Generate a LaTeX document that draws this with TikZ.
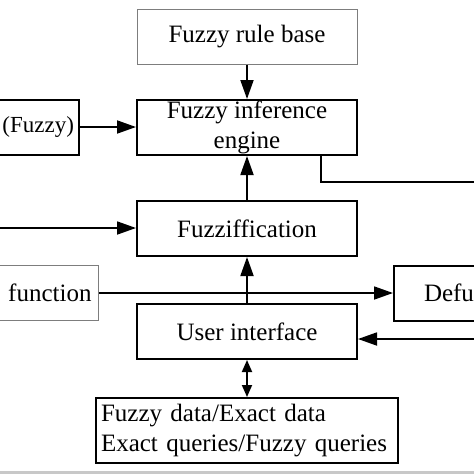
\documentclass[tikz,border=0pt]{standalone}
\usepackage{fontspec}
\setmainfont{Liberation Serif}
\usetikzlibrary{arrows.meta}
\definecolor{graybox}{RGB}{125,125,125}
\definecolor{band}{RGB}{200,200,200}
\tikzset{
  box/.style={draw=black, line width=2pt, minimum width=220pt, minimum height=55pt, inner sep=0pt, font=\fontsize{25}{30}\selectfont, align=center},
  graybx/.style={box, draw=graybox, line width=1pt},
  conn/.style={line width=1.8pt, -{Triangle[length=19pt,width=13pt]}},
  plain/.style={line width=1.8pt},
  dbl/.style={line width=1.8pt, {Triangle[length=12pt,width=10pt]}-{Triangle[length=12pt,width=10pt]}}
}
\begin{document}
\begin{tikzpicture}[x=1pt,y=-1pt]
\useasboundingbox (0,0) rectangle (474,474);
\fill[white] (0,0) rectangle (474,474);
\fill[band] (0,471) rectangle (474,474);
\node[graybx] (rule) at (247,36.5) {Fuzzy rule base};
\node[box] (eng) at (247,127.5) {Fuzzy inference\\engine};
\node[box, anchor=east, minimum width=160pt, text width=150pt, align=right, inner xsep=5pt, font=\fontsize{23}{28}\selectfont] (fz) at (80,127) {(Fuzzy)};
\node[box] (fuzzif) at (247,228.5) {Fuzziffication};
\node[graybx, anchor=east, minimum width=160pt, text width=146pt, align=right, inner xsep=7pt] (func) at (99,293) {function};
\node[box, anchor=west, minimum width=160pt, text width=130pt, align=left, inner xsep=30pt] (defuz) at (393,293) {Defu};
\node[box] (ui) at (247,331.5) {User interface};
\node[box, minimum width=302pt, minimum height=65pt, text width=292pt, align=left, inner xsep=5pt] (data) at (247,430.5) {Fuzzy data/Exact data\\Exact queries/Fuzzy queries};
\coordinate (lin) at (-2,228);
\coordinate (eout) at (476,182);
\coordinate (rin) at (476,339);
\draw[conn] (rule) -- (eng);
\draw[conn] (fz.east) -- (fz.east -| eng.west);
\draw[conn] (fuzzif) -- (eng);
\draw[plain] (eng.south -| 321,0) -- (321,182) -- (eout);
\draw[conn] (lin) -- (lin -| fuzzif.west);
\draw[conn] (func.east) -- (defuz.west);
\draw[conn] (ui) -- (fuzzif);
\draw[conn] (rin) -- (rin -| ui.east);
\draw[dbl] (ui) -- (data);
\end{tikzpicture}
\end{document}
